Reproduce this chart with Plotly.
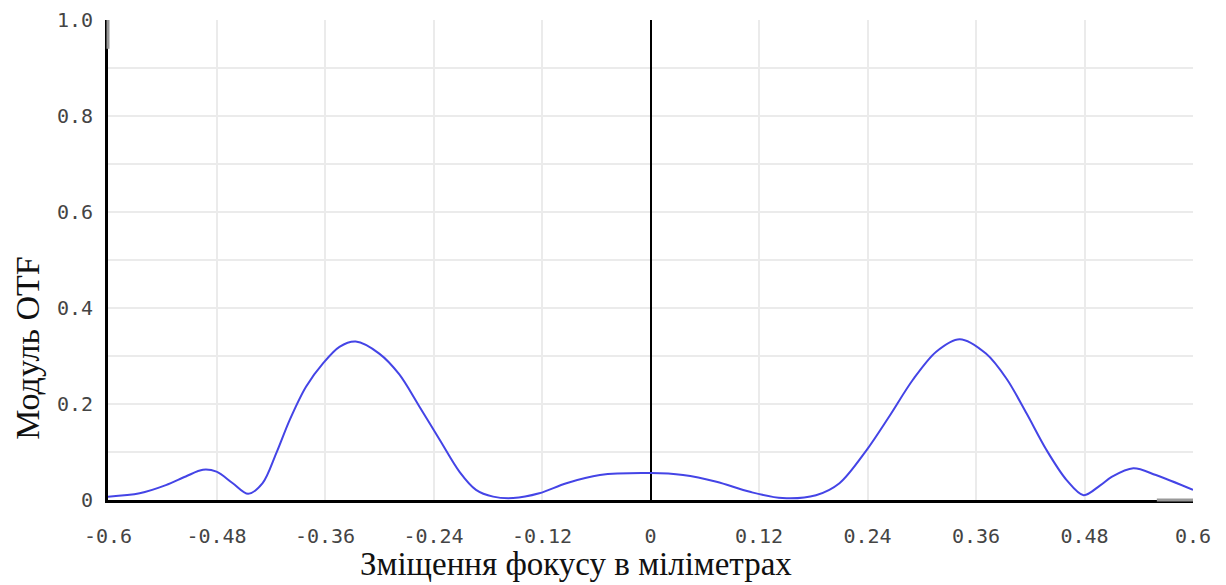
import plotly.graph_objects as go

# focus shift (mm) and OTF modulus values
x_vals = [-0.600, -0.565, -0.536, -0.514, -0.495, -0.480, -0.462, -0.445, -0.429, -0.414,
          -0.399, -0.381, -0.362, -0.344, -0.326, -0.300, -0.278, -0.256, -0.233,
          -0.211, -0.193, -0.174, -0.152, -0.123, -0.093, -0.056, 0.000, 0.036, 0.073,
          0.110, 0.146, 0.183, 0.209, 0.239, 0.264, 0.290, 0.316, 0.342, 0.371,
          0.394, 0.416, 0.438, 0.460, 0.479, 0.497, 0.510, 0.534, 0.559, 0.600]
y_vals = [0.007, 0.014, 0.031, 0.049, 0.063, 0.059, 0.035, 0.013, 0.035, 0.097,
          0.167, 0.236, 0.285, 0.319, 0.330, 0.305, 0.262, 0.196, 0.125,
          0.058, 0.021, 0.007, 0.004, 0.014, 0.035, 0.052, 0.056, 0.052, 0.038,
          0.017, 0.004, 0.010, 0.035, 0.104, 0.174, 0.250, 0.309, 0.335, 0.305,
          0.252, 0.180, 0.104, 0.042, 0.010, 0.030, 0.048, 0.066, 0.052, 0.021]

x_ticks = [-0.6, -0.48, -0.36, -0.24, -0.12, 0, 0.12, 0.24, 0.36, 0.48, 0.6]
x_tick_text = ["-0.6", "-0.48", "-0.36", "-0.24", "-0.12", "0", "0.12", "0.24", "0.36", "0.48", "0.6"]
y_ticks = [0, 0.2, 0.4, 0.6, 0.8, 1.0]
y_tick_text = ["0", "0.2", "0.4", "0.6", "0.8", "1.0"]

x_title = "Зміщення фокусу в міліметрах"
y_title = "Модуль OTF"

fig = go.Figure()
fig.add_trace(go.Scatter(
    x=x_vals, y=y_vals, mode="lines",
    line=dict(color="#4444e6", width=2, shape="spline", smoothing=0.9),
    hoverinfo="skip", showlegend=False,
))

tick_font = dict(family="DejaVu Sans Mono", size=20, color="#444444")

fig.update_layout(
    width=1226, height=585,
    margin=dict(l=108, r=33, t=20, b=85),
    paper_bgcolor="white", plot_bgcolor="white",
    xaxis=dict(
        range=[-0.6, 0.6], tickvals=x_ticks, ticktext=x_tick_text,
        showgrid=True, gridcolor="#ebebeb", gridwidth=2,
        zeroline=True, zerolinecolor="black", zerolinewidth=2,
        showline=True, linecolor="black", linewidth=3,
        ticks="", tickfont=tick_font, ticklabelstandoff=16, automargin=False,
    ),
    yaxis=dict(
        range=[0, 1.0], tickvals=y_ticks, ticktext=y_tick_text,
        showgrid=True, gridcolor="#ebebeb", gridwidth=2,
        minor=dict(dtick=0.1, showgrid=True, gridcolor="#ebebeb", gridwidth=2),
        zeroline=False,
        showline=True, linecolor="black", linewidth=3,
        ticks="", tickfont=tick_font, ticklabelstandoff=8, automargin=False,
    ),
    shapes=[
        dict(type="line", xref="x", yref="paper", x0=0.56, x1=0.6, y0=0, y1=0,
             line=dict(color="#999999", width=3), layer="above"),
        dict(type="line", xref="paper", yref="y", x0=0, x1=0, y0=0.94, y1=1.0,
             line=dict(color="#999999", width=3), layer="above"),
    ],
    annotations=[
        dict(text=x_title, xref="paper", yref="paper", x=0.431, y=0, yshift=-64,
             xanchor="center", yanchor="middle", showarrow=False,
             font=dict(family="Liberation Serif", size=33, color="#111111")),
        dict(text=y_title, xref="paper", yref="paper", x=0, xshift=-80, y=0.315,
             xanchor="center", yanchor="middle", showarrow=False, textangle=-90,
             font=dict(family="Liberation Serif", size=34, color="#111111")),
    ],
)

fig.write_html("out.html")
